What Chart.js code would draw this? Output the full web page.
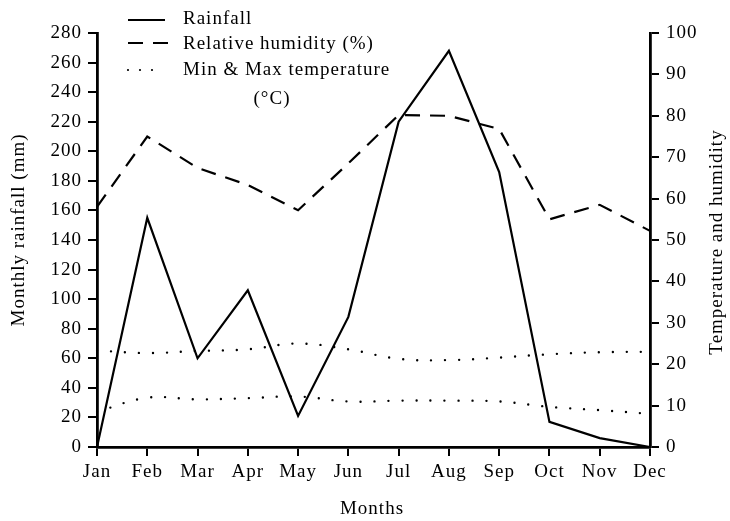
<!DOCTYPE html>
<html>
<head>
<meta charset="utf-8">
<script src="https://cdn.jsdelivr.net/npm/chart.js@4"></script>
<style>
html,body{margin:0;padding:0;background:#fff;}
#wrap{width:730px;height:521px;}
</style>
</head>
<body>
<div id="wrap"><canvas id="c" width="730" height="521"></canvas></div>
<script>
const months = ['Jan','Feb','Mar','Apr','May','Jun','Jul','Aug','Sep','Oct','Nov','Dec'];
const rainfall = [0,155,60,106,21,88,220,268,186,17,6,0];
const humidity = [58,75,67.4,63.3,57.2,68.5,80.2,80,76.8,55,58.5,52.2];
const maxTemp = [23.3,22.7,23.2,23.6,25,23.6,21.3,21,21.6,22.4,22.9,23];
const minTemp = [8.5,11.9,11.5,11.8,12.2,11,11.2,11.2,11,9.7,8.9,8];
const rainTicks = {min:0,max:280,step:20};
const tempTicks = {min:0,max:100,step:10};
const legendLabels = ['Rainfall','Relative humidity (%)','Min & Max temperature','(\u00B0C)'];
const axisTitles = {left:'Monthly rainfall (mm)', right:'Temperature and humidity', bottom:'Months'};

const FONT = 'Liberation Serif';
const FS = 19;
const LS = '1px';

const spacing = {
  id:'spacing',
  beforeDraw(chart){ chart.ctx.letterSpacing = LS; }
};

const overlay = {
  id:'overlay',
  afterDraw(chart){
    const ctx = chart.ctx;
    ctx.save();
    ctx.letterSpacing = LS;
    ctx.fillStyle = '#000';
    ctx.strokeStyle = '#000';
    ctx.font = FS + 'px "' + FONT + '"';
    ctx.textBaseline = 'middle';
    ctx.textAlign = 'left';
    // legend
    ctx.lineWidth = 2;
    ctx.beginPath(); ctx.moveTo(128,20); ctx.lineTo(165,20); ctx.stroke();
    ctx.setLineDash([15,10]);
    ctx.beginPath(); ctx.moveTo(128,43); ctx.lineTo(170,43); ctx.stroke();
    ctx.setLineDash([0,12]); ctx.lineCap='round'; ctx.lineWidth=2.2;
    ctx.beginPath(); ctx.moveTo(128,70); ctx.lineTo(160,70); ctx.stroke();
    ctx.setLineDash([]); ctx.lineCap='butt';
    ctx.fillText(legendLabels[0],183,19);
    ctx.fillText(legendLabels[1],183,44);
    ctx.fillText(legendLabels[2],183,70);
    ctx.textAlign='center';
    ctx.fillText(legendLabels[3],272,99);
    // bottom title
    ctx.fillText(axisTitles.bottom,372,509);
    // side titles
    ctx.save(); ctx.translate(19,230); ctx.rotate(-Math.PI/2);
    ctx.fillText(axisTitles.left,0,0); ctx.restore();
    ctx.save(); ctx.translate(717,242); ctx.rotate(-Math.PI/2);
    ctx.fillText(axisTitles.right,0,0); ctx.restore();
    ctx.restore();
  }
};

const gridCfg = {display:true, drawOnChartArea:false, drawTicks:true, tickLength:9, color:'#000', lineWidth:2};
const borderCfg = {display:true, color:'#000', width:2.8};
const tickFont = {family:FONT, size:FS};

new Chart(document.getElementById('c'), {
  type:'line',
  data:{
    labels:months,
    datasets:[
      {label:'Rainfall', data:rainfall, yAxisID:'y', borderColor:'#000', borderWidth:2.2, pointRadius:0, tension:0, fill:false},
      {label:'Relative humidity (%)', data:humidity, yAxisID:'y1', borderColor:'#000', borderWidth:2.2, borderDash:[15,10], pointRadius:0, tension:0, fill:false},
      {label:'Max temperature', data:maxTemp, yAxisID:'y1', borderColor:'#000', borderWidth:2.4, borderDash:[0,14], borderCapStyle:'round', pointRadius:0, tension:0.4, fill:false},
      {label:'Min temperature', data:minTemp, yAxisID:'y1', borderColor:'#000', borderWidth:2.4, borderDash:[0,14], borderCapStyle:'round', pointRadius:0, tension:0.4, fill:false}
    ]
  },
  options:{
    responsive:false,
    animation:false,
    layout:{padding:{top:33,right:0,left:0,bottom:0}},
    plugins:{legend:{display:false}, title:{display:false}, tooltip:{enabled:false}},
    scales:{
      x:{type:'category', offset:false, grid:gridCfg, border:borderCfg,
         ticks:{color:'#000', font:tickFont, padding:5, maxRotation:0, autoSkip:false},
         afterFit(s){ s.height = 74; }},
      y:{position:'left', min:rainTicks.min, max:rainTicks.max, grid:gridCfg, border:borderCfg,
         ticks:{color:'#000', font:tickFont, stepSize:rainTicks.step, padding:6},
         afterFit(s){ s.width = 97; }},
      y1:{position:'right', min:tempTicks.min, max:tempTicks.max, grid:gridCfg, border:borderCfg,
         ticks:{color:'#000', font:tickFont, stepSize:tempTicks.step, padding:7},
         afterFit(s){ s.width = 80; }}
    }
  },
  plugins:[spacing, overlay]
});
</script>
</body>
</html>
